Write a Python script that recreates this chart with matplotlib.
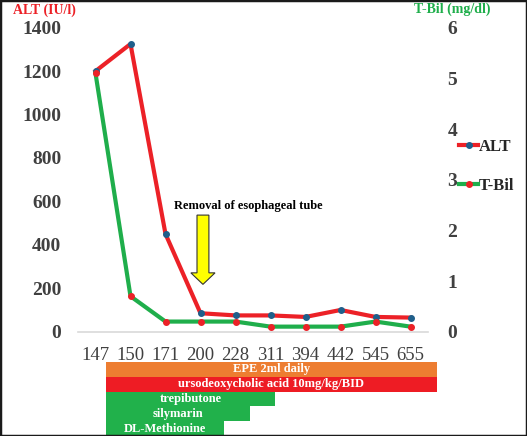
import matplotlib.pyplot as plt
from matplotlib.lines import Line2D
from matplotlib.patches import Rectangle

plt.rcParams["font.family"] = ["Liberation Serif", "DejaVu Serif"]

DAYS = ["147", "150", "171", "200", "228", "311", "394", "442", "545", "655"]
ALT = [1200, 1325, 450, 85, 75, 75, 68, 100, 68, 65]
TBIL = [5.1, 0.70, 0.2, 0.2, 0.2, 0.1, 0.1, 0.1, 0.2, 0.1]

# treatment spans, in category-index units along the day axis
TREATMENTS = ["EPE 2ml daily", "ursodeoxycholic acid 10mg/kg/BID",
              "trepibutone", "silymarin", "DL-Methionine"]
TREAT_START = [0.29, 0.29, 0.29, 0.29, 0.29]
TREAT_END = [9.76, 9.76, 5.14, 4.41, 3.68]
TREAT_COLORS = ["#ed7d31", "#ee1c24", "#21b14b", "#21b14b", "#21b14b"]

EVENT_DAY = "200"
EVENT_TEXT = "Removal of esophageal tube"

RED = "#ec2127"
GREEN = "#1fae4b"
BLUE = "#1f5f8b"
GREY = "#404040"

W, H = 527, 436
fig = plt.figure(figsize=(W / 100, H / 100), dpi=100)

ax = fig.add_axes([78 / W, (H - 331.7) / H, 350 / W, 304 / H])
ax2 = ax.twinx()
x = list(range(len(DAYS)))

ax.plot(x, ALT, color=RED, lw=3, marker="o", ms=4,
        mfc=BLUE, mec=BLUE, solid_joinstyle="round", zorder=3)
ax2.plot(x, TBIL, color=GREEN, lw=3, marker="o", ms=4,
         mfc=RED, mec=RED, solid_joinstyle="round", zorder=3)

ax.set_xlim(-0.5, len(DAYS) - 0.5)
ax.set_ylim(0, 1400)
ax2.set_ylim(0, 6)
ax.set_xticks(x)
ax.set_xticklabels(DAYS)
ax.set_yticks(range(0, 1401, 200))
ax2.set_yticks(range(0, 7))

for a in (ax, ax2):
    for s in a.spines.values():
        s.set_visible(False)
ax.spines["bottom"].set_visible(True)
ax.spines["bottom"].set_color("#d9d9d9")
ax.spines["bottom"].set_linewidth(1.2)

ax.tick_params(axis="x", length=0, pad=11, labelsize=13.5, labelcolor=GREY)
ax.tick_params(axis="y", length=0, pad=12, labelsize=14, labelcolor=GREY)
ax2.tick_params(axis="y", length=0, pad=14, labelsize=14, labelcolor=GREY)
for lab in ax.get_yticklabels() + ax2.get_yticklabels():
    lab.set_fontweight("bold")

# axis titles
fig.text(13 / W, 1 - 10 / H, "ALT (IU/l)", color=RED, fontsize=10,
         fontweight="bold", ha="left", va="center")
fig.text(414 / W, 1 - 9 / H, "T-Bil (mg/dl)", color=GREEN, fontsize=10,
         fontweight="bold", ha="left", va="center")

# event arrow
ex = DAYS.index(EVENT_DAY) + 0.07
ax.arrow(ex, 537, 0, 218 - 537, width=0.34, head_width=0.69,
         head_length=53, length_includes_head=True,
         fc="#ffff00", ec="#333333", lw=0.8, zorder=4)
ax.text(4.36, 580, EVENT_TEXT, fontsize=9, fontweight="bold",
        ha="center", va="center", color="black")

# legend
handles = [
    Line2D([], [], color=RED, lw=3, marker="o", ms=4, mfc=BLUE, mec=BLUE),
    Line2D([], [], color=GREEN, lw=3, marker="o", ms=4, mfc=RED, mec=RED),
]
fig.legend(handles, ["ALT", "T-Bil"], loc="upper left",
           bbox_to_anchor=(459 / W, 1 - 139 / H), frameon=False,
           handlelength=1.15, handletextpad=0.05, labelspacing=1.4,
           borderpad=0, borderaxespad=0,
           prop={"family": "Liberation Serif", "weight": "bold", "size": 12},
           labelcolor="#262626")

# treatment table
axt = fig.add_axes([78 / W, 0, 350 / W, (H - 362) / H], sharex=ax)
for i, (name, s, e, c) in enumerate(zip(TREATMENTS, TREAT_START,
                                        TREAT_END, TREAT_COLORS)):
    axt.barh(i, e - s, left=s, height=1.0, color=c, lw=0, clip_on=False)
    axt.text((s + e) / 2, i, name, color="white", fontsize=9,
             fontweight="bold", ha="center", va="center")
axt.set_ylim(len(TREATMENTS) - 0.5, -0.5)
axt.axis("off")
ax.set_xlim(-0.5, len(DAYS) - 0.5)

fig.patches.append(Rectangle((0, 0), 1, 1, transform=fig.transFigure,
                             fill=False, ec="#1a1a1a", lw=2.5))

fig.savefig("out.png", dpi=100, facecolor="white")
